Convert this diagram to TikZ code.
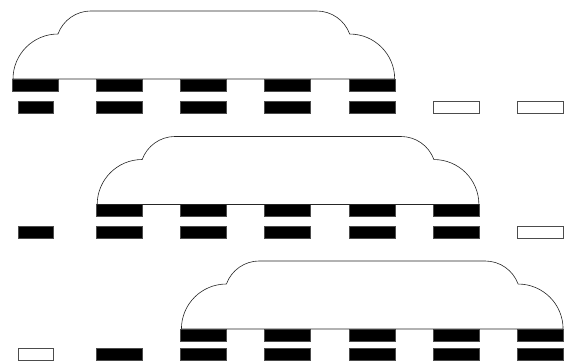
\documentclass[tikz,border=0pt]{standalone}
\usetikzlibrary{positioning}
\tikzset{
  % Blocchi della sequenza
  block/.style={draw=black!70,line width=0.4pt,minimum width=46pt,minimum height=12pt,inner sep=0,outer sep=0},
  block on/.style={block,fill=black},
  block off/.style={block,fill=white},
  block short/.style={minimum width=35pt},
  % Finestra (nuvola)
  window/.style={draw=black!85,line width=0.6pt}
}

\begin{document}
\begin{tikzpicture}[x=1pt,y=1pt]
  \useasboundingbox (0,0) rectangle (569,-362);
  % riga / primo blocco / altri blocchi / finestra da-a / y finestra / y sequenza
  \foreach \r/\fs/\pat/\wfirst/\wlast/\wy/\sy in {
      1/on/{on,on,on,on,off,off}/0/4/-85/-107,
      2/on/{on,on,on,on,on,off}/1/5/-210.5/-232.5,
      3/off/{on,on,on,on,on,on}/2/6/-335/-354}{
    % blocchi nella finestra
    \foreach \c in {\wfirst,...,\wlast}
      \node[block on] (w\r c\c) at (35+84.2*\c,\wy) {};
    % sequenza sotto
    \node[block \fs,block short] (s\r c0) at (35.5,\sy) {};
    \foreach \s [count=\c] in \pat
      \node[block \s] (s\r c\c) at (35+84.2*\c,\sy) {};
    % nuvola
    \draw[window] ([xshift=1pt]w\r c\wfirst.north west)
      arc (180:90:45pt) arc (160:90:35pt)
      -- ([xshift=-78pt,yshift=68pt]w\r c\wlast.north east)
      arc (90:20:35pt) arc (90:0:45pt) -- cycle;
  }
\end{tikzpicture}
\end{document}
